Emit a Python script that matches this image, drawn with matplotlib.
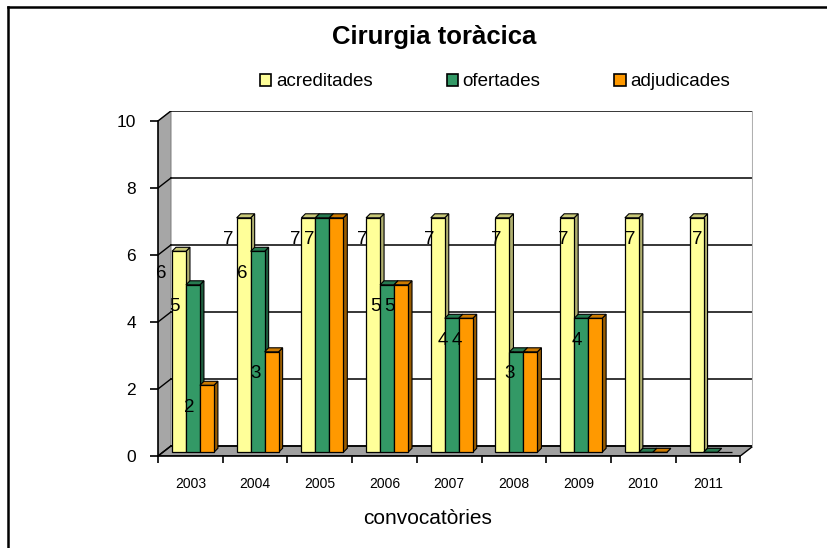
import numpy as np
import matplotlib
matplotlib.use("Agg")
import matplotlib.pyplot as plt
from matplotlib.patches import Polygon, Patch
from matplotlib.lines import Line2D

plt.rcParams['font.family'] = ['Liberation Sans', 'DejaVu Sans']

# Data
years = ["2003", "2004", "2005", "2006", "2007", "2008", "2009", "2010", "2011"]
acreditades = [6, 7, 7, 7, 7, 7, 7, 7, 7]
ofertades = [5, 6, 7, 5, 4, 3, 4, 0, 0]
adjudicades = [2, 3, 7, 5, 4, 3, 4, 0, np.nan]

# data labels that are visible in the original (None = hidden)
lab_acr = [6, 7, 7, 7, 7, 7, 7, 7, 7]
lab_ofe = [5, 6, 7, 5, 4, 3, 4, None, None]
lab_adj = [2, 3, None, 5, 4, None, None, None, None]

series = [
    ("acreditades", acreditades, lab_acr, "#FFFF99", "#C8C878", "#B0B070"),
    ("ofertades", ofertades, lab_ofe, "#339966", "#267A50", "#1E5E3E"),
    ("adjudicades", adjudicades, lab_adj, "#FF9900", "#CC7A00", "#995C00"),
]

W, H = 827, 548
fig = plt.figure(figsize=(W / 100, H / 100), dpi=100)

# pseudo-3D geometry (in data units)
DX, DY = 0.2, 0.3          # depth of walls
ddx, ddy = 0.062, 0.12     # depth of bars
bw = 0.216                 # bar width
base = 0.11
shift = 0.04
n = len(years)
x0, x1 = -0.5, n - 0.5

ax = fig.add_axes([158 / W, (H - 456) / H, (x1 + DX - x0) * 64.7 / W, (10 + DY) * 33.5 / H])
ax.set_xlim(x0, x1 + DX)
ax.set_ylim(0, 10 + DY)

# walls
ax.add_patch(Polygon([(x0, 0), (x0 + DX, DY), (x0 + DX, 10 + DY), (x0, 10)],
                     closed=True, facecolor="#A6A6A6", edgecolor="#808080", lw=0.8, zorder=1))
ax.add_patch(Polygon([(x0, 0), (x1, 0), (x1 + DX, DY), (x0 + DX, DY)],
                     closed=True, facecolor="#A0A0A0", edgecolor="black", lw=1, zorder=1))
for yv in range(0, 11, 2):
    ax.plot([x0 + DX, x1 + DX], [yv + DY, yv + DY], color="black", lw=1.1, zorder=1.5)
    ax.plot([x0, x0 + DX], [yv, yv + DY], color="black", lw=1, zorder=1.5)
ax.plot([x1 + DX, x1 + DX], [DY, 10 + DY], color="#B0B0B0", lw=1.5, zorder=1.5)

# bars
xs = np.arange(n)
for k, (name, vals, labs, fc, tc, sc) in enumerate(series):
    lefts = xs + shift - 1.5 * bw + k * bw
    for i, (l, v) in enumerate(zip(lefts, vals)):
        if np.isnan(v):
            continue
        top = base + v
        ax.add_patch(Polygon([(l + bw, base), (l + bw + ddx, base + ddy),
                              (l + bw + ddx, top + ddy), (l + bw, top)],
                             closed=True, facecolor=sc, edgecolor="black", lw=0.8, zorder=3 + k))
        ax.add_patch(Polygon([(l, top), (l + bw, top), (l + bw + ddx, top + ddy), (l + ddx, top + ddy)],
                             closed=True, facecolor=tc, edgecolor="black", lw=0.8, zorder=3 + k))
    ax.bar(lefts, np.nan_to_num(vals), width=bw, bottom=base, align="edge",
           color=fc, edgecolor="black", lw=0.9, zorder=3 + k)
    for i, (l, lab) in enumerate(zip(lefts, labs)):
        if lab is None:
            continue
        off = (-11 + 2.3 * i) / 64.7
        ax.text(l + off, lab - 0.55, str(lab), ha="center", va="center",
                fontsize=13.5, color="black", zorder=10)

# axes styling
for s in ["top", "right"]:
    ax.spines[s].set_visible(False)
ax.spines["left"].set_bounds(0, 10)
ax.spines["bottom"].set_bounds(x0, x1)
ax.spines["left"].set_linewidth(1.2)
ax.spines["bottom"].set_linewidth(1.2)
ax.set_yticks(range(0, 11, 2))
ax.tick_params(axis="y", length=6, width=1.2, labelsize=12.5, pad=10)
ax.set_xticks(np.arange(x0, x1 + 0.01, 1))
ax.set_xticklabels([])
ax.tick_params(axis="x", which="major", length=5, width=1.2)
ax.set_xticks(xs, minor=True)
ax.set_xticklabels(years, minor=True, fontsize=10)
ax.tick_params(axis="x", which="minor", length=0, pad=15)
ax.patch.set_visible(False)

# title, axis title, legend
fig.text(434 / W, 1 - 37 / H, "Cirurgia toràcica", ha="center", va="center",
         fontsize=18.5, fontweight="bold")
fig.text(428 / W, 1 - 518 / H, "convocatòries", ha="center", va="center", fontsize=15)
handles = [Patch(facecolor=s[3], edgecolor="black", lw=1.2) for s in series]
fig.legend(handles, [s[0] for s in series], loc="center", bbox_to_anchor=(495 / W, 1 - 82 / H),
           ncol=3, frameon=False, fontsize=13.5, handlelength=0.6, handleheight=0.6,
           handletextpad=0.25, columnspacing=3.95)

# chart border (left and top)
fig.add_artist(Line2D([8 / W, 8 / W], [0, 1 - 7 / H], color="black", lw=1.8))
fig.add_artist(Line2D([8 / W, 1], [1 - 7 / H, 1 - 7 / H], color="black", lw=1.8))

fig.savefig("out.png", dpi=100)
